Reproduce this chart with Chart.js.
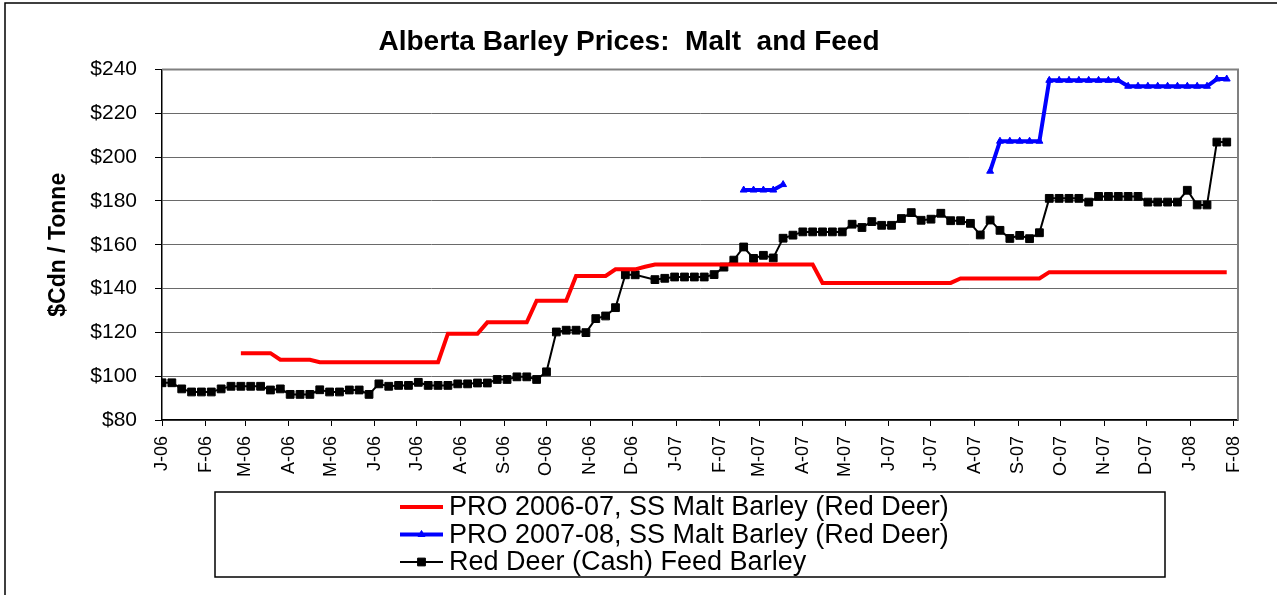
<!DOCTYPE html>
<html>
<head>
<meta charset="utf-8">
<script src="https://cdn.jsdelivr.net/npm/chart.js@4/dist/chart.umd.min.js"></script>
<style>
  html, body { margin: 0; padding: 0; background: #fff; }
</style>
</head>
<body>
<canvas id="myChart" width="1277" height="595"></canvas>
<script>
// month tick labels, Jan 2006 .. Feb 2008
var monthLabels = ['J-06','F-06','M-06','A-06','M-06','J-06','J-06','A-06','S-06','O-06','N-06','D-06',
  'J-07','F-07','M-07','A-07','M-07','J-07','J-07','A-07','S-07','O-07','N-07','D-07','J-08','F-08'];

// series, one value per week starting the first week of Jan 2006 (null = no quote)
var malt0607 = [
  null, null, null, null, null, null, null, null, 110.5, 110.5,
  110.5, 110.5, 107.5, 107.5, 107.5, 107.5, 106.4, 106.4, 106.4, 106.4,
  106.4, 106.4, 106.4, 106.4, 106.4, 106.4, 106.4, 106.4, 106.4, 119.4,
  119.4, 119.4, 119.4, 124.6, 124.6, 124.6, 124.6, 124.6, 134.5, 134.5,
  134.5, 134.5, 145.8, 145.8, 145.8, 145.8, 148.8, 148.8, 148.8, 150,
  151, 151, 151, 151, 151, 151, 151, 151, 151, 151,
  151, 151, 151, 151, 151, 151, 151, 142.6, 142.6, 142.6,
  142.6, 142.6, 142.6, 142.6, 142.6, 142.6, 142.6, 142.6, 142.6, 142.6,
  142.6, 144.6, 144.6, 144.6, 144.6, 144.6, 144.6, 144.6, 144.6, 144.6,
  147.5, 147.5, 147.5, 147.5, 147.5, 147.5, 147.5, 147.5, 147.5, 147.5,
  147.5, 147.5, 147.5, 147.5, 147.5, 147.5, 147.5, 147.5, 147.5];

var malt0708 = [
  null, null, null, null, null, null, null, null, null, null,
  null, null, null, null, null, null, null, null, null, null,
  null, null, null, null, null, null, null, null, null, null,
  null, null, null, null, null, null, null, null, null, null,
  null, null, null, null, null, null, null, null, null, null,
  null, null, null, null, null, null, null, null, null, 185,
  185, 185, 185, 187.5, null, null, null, null, null, null,
  null, null, null, null, null, null, null, null, null, null,
  null, null, null, null, 193.6, 207.3, 207.3, 207.3, 207.3, 207.3,
  235.1, 235.1, 235.1, 235.1, 235.1, 235.1, 235.1, 235.1, 232.4, 232.4,
  232.4, 232.4, 232.4, 232.4, 232.4, 232.4, 232.4, 235.7, 235.7];

var feedRedDeer = [
  97, 97, 94.2, 92.8, 92.8, 92.8, 94.2, 95.4, 95.4, 95.4,
  95.4, 93.7, 94.2, 91.7, 91.7, 91.7, 93.8, 92.8, 92.8, 93.7,
  93.7, 91.7, 96.5, 95.4, 95.8, 95.8, 97.2, 95.8, 95.8, 95.8,
  96.5, 96.5, 96.9, 96.9, 98.5, 98.5, 99.7, 99.7, 98.5, 102,
  120.2, 121, 121, 119.9, 126.3, 127.5, 131.3, 146.3, 146.3, null,
  144.1, 144.7, 145.3, 145.3, 145.3, 145.3, 146.4, 149.8, 153, 159,
  153.8, 155.2, 154, 163, 164.4, 165.9, 165.9, 165.9, 165.9, 165.9,
  169.4, 167.9, 170.6, 168.9, 168.9, 172, 174.7, 171.2, 171.7, 174.4,
  171, 171, 169.8, 164.5, 171.3, 166.6, 162.9, 164.3, 162.8, 165.5,
  181.2, 181.2, 181.2, 181.2, 179.5, 182.1, 182.1, 182.1, 182.1, 182.1,
  179.5, 179.5, 179.5, 179.5, 184.9, 178.2, 178.2, 206.9, 206.9];

var seriesLabels = ['PRO 2006-07, SS Malt Barley (Red Deer)',
  'PRO 2007-08, SS Malt Barley (Red Deer)', 'Red Deer (Cash) Feed Barley'];

// x is days since 1 Jan 2006
var DAY = 86400000;
var start = Date.UTC(2006, 0, 1);
var monthDays = monthLabels.map(function(l, i) { return (Date.UTC(2006, i, 1) - start) / DAY; });

function toPoints(values) {
  return values.map(function(v, i) { return { x: i * 7, y: v }; });
}

var FONT = '"Liberation Sans", Arial, sans-serif';
Chart.defaults.font.family = FONT;
Chart.defaults.color = '#000';

var framePlugin = {
  id: 'frame',
  beforeDraw: function(chart) {
    var ctx = chart.ctx;
    ctx.save();
    ctx.fillStyle = '#fff';
    ctx.fillRect(0, 0, chart.width, chart.height);
    ctx.strokeStyle = '#000';
    ctx.lineWidth = 1.5;
    ctx.beginPath();
    ctx.moveTo(5, 595); ctx.lineTo(5, 3); ctx.lineTo(1277, 3);
    ctx.stroke();
    ctx.restore();
  },
  afterDatasetsDraw: function(chart) {
    var a = chart.chartArea, ctx = chart.ctx;
    ctx.save();
    ctx.strokeStyle = '#808080';
    ctx.lineWidth = 2;
    ctx.beginPath();
    ctx.moveTo(a.left, a.top); ctx.lineTo(a.right, a.top); ctx.lineTo(a.right, a.bottom);
    ctx.stroke();
    ctx.restore();
  },
  afterDraw: function(chart) {
    var ctx = chart.ctx;
    ctx.save();
    ctx.strokeStyle = '#000';
    ctx.lineWidth = 1.5;
    ctx.strokeRect(215, 492, 950, 85);
    ctx.font = '27px ' + FONT;
    ctx.textBaseline = 'middle';
    chart.data.datasets.forEach(function(ds, i) {
      var y = 507 + i * 27.5;
      ctx.strokeStyle = ds.borderColor;
      ctx.lineWidth = ds.borderWidth;
      ctx.beginPath(); ctx.moveTo(400, y); ctx.lineTo(443, y); ctx.stroke();
      if (ds.pointRadius > 0) {
        ctx.fillStyle = ds.pointBackgroundColor;
        ctx.strokeStyle = ds.pointBorderColor;
        ctx.lineWidth = 1;
        Chart.helpers.drawPoint(ctx, { pointStyle: ds.pointStyle, radius: ds.pointRadius, borderWidth: 1, rotation: 0 }, 421.5, y);
      }
      ctx.fillStyle = '#000';
      ctx.fillText(ds.label, 449, y + 1);
    });
    ctx.restore();
  }
};

var ctx = document.getElementById('myChart').getContext('2d');
var myChart = new Chart(ctx, {
  type: 'line',
  data: {
    datasets: [{
      label: seriesLabels[0],
      data: toPoints(malt0607),
      borderColor: '#ff0000',
      backgroundColor: '#ff0000',
      borderWidth: 4,
      pointRadius: 0,
      pointStyle: false,
      tension: 0
    }, {
      label: seriesLabels[1],
      data: toPoints(malt0708),
      borderColor: '#0000ff',
      backgroundColor: '#0000ff',
      borderWidth: 4,
      pointStyle: 'triangle',
      pointRadius: 4,
      pointBackgroundColor: '#0000ff',
      pointBorderColor: '#0000ff',
      pointBorderWidth: 1,
      spanGaps: false,
      tension: 0
    }, {
      label: seriesLabels[2],
      data: toPoints(feedRedDeer),
      borderColor: '#000000',
      backgroundColor: '#000000',
      borderWidth: 2,
      pointStyle: 'rect',
      pointRadius: 5.5,
      pointBackgroundColor: '#000000',
      pointBorderColor: '#000000',
      pointBorderWidth: 1,
      spanGaps: true,
      tension: 0
    }]
  },
  options: {
    responsive: false,
    animation: false,
    devicePixelRatio: 1,
    layout: { padding: { left: 20, right: 39, top: 0, bottom: 115 } },
    plugins: {
      legend: { display: false },
      tooltip: { enabled: false },
      title: {
        display: true,
        text: 'Alberta Barley Prices:  Malt  and Feed',
        font: { size: 28, weight: 'bold', lineHeight: 1.2 },
        color: '#000',
        padding: { top: 25, bottom: 11 }
      }
    },
    scales: {
      x: {
        type: 'linear',
        min: 0,
        max: 764,
        afterBuildTicks: function(scale) {
          scale.ticks = monthDays.map(function(d) { return { value: d }; });
        },
        afterFit: function(scale) { scale.height = 60; },
        ticks: {
          autoSkip: false,
          minRotation: 90,
          maxRotation: 90,
          padding: 10,
          font: { size: 18 },
          color: '#000',
          callback: function(value, index) { return monthLabels[index]; }
        },
        grid: { drawOnChartArea: false, drawTicks: true, tickLength: 6, tickColor: '#000' },
        border: { color: '#000', width: 1.5 }
      },
      y: {
        min: 80,
        max: 240,
        afterFit: function(scale) { scale.width = 142; },
        ticks: {
          stepSize: 20,
          padding: 18,
          font: { size: 21 },
          color: '#000',
          callback: function(value) { return '$' + value; }
        },
        grid: { color: '#6a6a6a', lineWidth: 1, tickLength: 7, tickColor: '#000' },
        border: { color: '#000', width: 1.5 },
        title: {
          display: true,
          text: '$Cdn / Tonne',
          font: { size: 23, weight: 'bold', lineHeight: 1.2 },
          color: '#000',
          padding: { top: 25, bottom: 0 }
        }
      }
    }
  },
  plugins: [framePlugin]
});
</script>
</body>
</html>
